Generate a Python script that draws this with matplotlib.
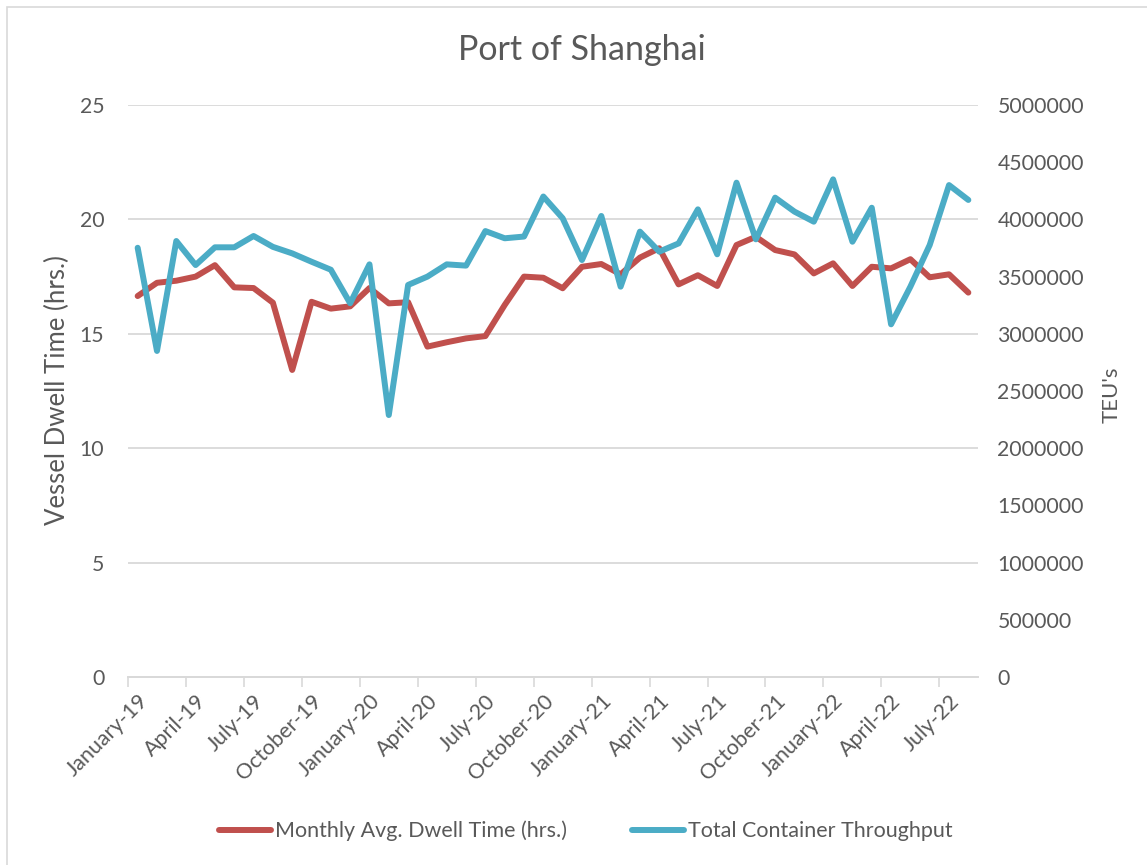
import matplotlib
matplotlib.use("Agg")
import matplotlib.pyplot as plt
from matplotlib.patches import Rectangle

plt.rcParams['font.family'] = ['Lato', 'DejaVu Sans']

# months Jan-2019 .. Aug-2022
month_names = ['January', 'February', 'March', 'April', 'May', 'June', 'July',
               'August', 'September', 'October', 'November', 'December']
months = [f"{m}-{y}" for y in ['19', '20', '21', '22'] for m in month_names][:44]

dwell = [16.65, 17.23, 17.32, 17.5, 18.0, 17.03, 17.0, 16.36, 13.42, 16.4,
         16.1, 16.2, 17.0, 16.33, 16.38, 14.44, 14.63, 14.8, 14.9, 16.26,
         17.5, 17.45, 16.99, 17.93, 18.05, 17.6, 18.33, 18.74, 17.16, 17.56,
         17.09, 18.88, 19.24, 18.66, 18.47, 17.64, 18.08, 17.09, 17.93, 17.86,
         18.26, 17.47, 17.6, 16.8]

teu = [3752000, 2850000, 3811000, 3601000, 3756000, 3756000, 3855000, 3760000,
       3703000, 3630000, 3560000, 3267000, 3607000, 2290000, 3427000, 3500000,
       3607000, 3596000, 3898000, 3835000, 3850000, 4200000, 4010000, 3645000,
       4030000, 3412000, 3893000, 3718000, 3790000, 4088000, 3695000, 4321000,
       3826000, 4190000, 4068000, 3980000, 4350000, 3805000, 4102000, 3083000,
       3412000, 3776000, 4300000, 4170000]

red = '#C0504D'
blue = '#4BACC6'
txt = '#595959'
grid = '#D9D9D9'

fig = plt.figure(figsize=(11.47, 8.65), dpi=100)
fig.patches.append(Rectangle((7 / 1147, -0.05), 1.1, 1.05 - 7 / 865, transform=fig.transFigure,
                             fill=False, edgecolor=grid, linewidth=1.2))
ax = fig.add_axes([128 / 1147, 1 - 677 / 865, (978 - 128) / 1147, (677 - 105) / 865])
ax2 = ax.twinx()

x = list(range(len(months)))
ax.plot(x, dwell, color=red, lw=4.3, solid_capstyle='round', solid_joinstyle='round',
        label='Monthly Avg. Dwell Time (hrs.)', zorder=3)
ax2.plot(x, teu, color=blue, lw=4.3, solid_capstyle='round', solid_joinstyle='round',
         label='Total Container Throughput', zorder=3)

ax.set_xlim(-0.5, len(months) - 0.5)
ax.set_ylim(0, 25)
ax2.set_ylim(0, 5000000)
ax.set_yticks(range(0, 26, 5))
ax2.set_yticks(range(0, 5000001, 500000))
ax2.set_yticklabels([str(v) for v in range(0, 5000001, 500000)])
ax.yaxis.grid(True, color=grid, lw=1.3)
ax.set_axisbelow(True)

# tick marks at category boundaries, labels at every third month
ax.set_xticks([i - 0.5 for i in range(0, len(months), 3)])
ax.set_xticklabels([])
ax.set_xticks(list(range(0, len(months), 3)), minor=True)
ax.set_xticklabels([months[i] for i in range(0, len(months), 3)], minor=True,
                   rotation=45, ha='right', rotation_mode='anchor')
ax.tick_params(axis='x', which='major', length=7, color=grid, width=1.2)
ax.tick_params(axis='x', which='minor', length=0, pad=10, labelsize=15.5, labelcolor=txt)
ax.tick_params(axis='y', length=0, pad=17, labelsize=15.3, labelcolor=txt)
ax2.tick_params(axis='y', length=0, pad=14, labelsize=15.3, labelcolor=txt)

for a in (ax, ax2):
    for s in ('top', 'left', 'right'):
        a.spines[s].set_visible(False)
    a.spines['bottom'].set_color(grid)
    a.spines['bottom'].set_linewidth(1.3)

ax.set_ylabel('Vessel Dwell Time (hrs.)', fontsize=18.5, color=txt)
ax.yaxis.set_label_coords((70 - 128) / 850, (677 - 390) / 572)
ax2.set_ylabel("TEU's", fontsize=16, color=txt, rotation=90)
ax2.yaxis.set_label_coords((1102 - 128) / 850, (677 - 395) / 572)

fig.text(582 / 1147, 1 - 50 / 865, 'Port of Shanghai', ha='center', va='center',
         fontsize=24.5, color=txt)

h1, l1 = ax.get_legend_handles_labels()
h2, l2 = ax2.get_legend_handles_labels()
fig.legend(h1 + h2, l1 + l2, loc='center', bbox_to_anchor=(586 / 1147, 1 - 831 / 865),
           ncol=2, frameon=False, fontsize=15.5, labelcolor=txt, handlelength=2.4,
           handletextpad=0.2, columnspacing=3.0)

fig.savefig('out.png', dpi=100, facecolor='white')
